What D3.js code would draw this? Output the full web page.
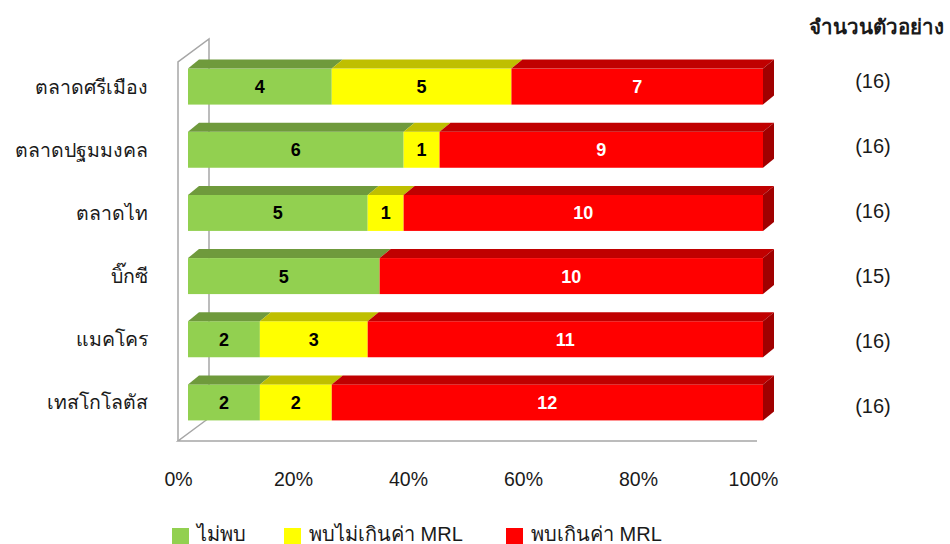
<!DOCTYPE html>
<html><head><meta charset="utf-8">
<script src="https://cdn.jsdelivr.net/npm/d3@7"></script>
<style>
html,body{margin:0;padding:0;background:#fff;}
svg{display:block;font-family:"Liberation Sans",Arial,sans-serif;}
</style></head>
<body><svg id="c" width="950" height="544"></svg>
<script>
const categories = ["ตลาดศรีเมือง","ตลาดปฐมมงคล","ตลาดไท","บิ๊กซี","แมคโคร","เทสโกโลตัส"];
const notFound = [4,6,5,5,2,2];
const withinMRL = [5,1,1,0,3,2];
const exceedMRL = [7,9,10,10,11,12];
const sampleCounts = ["(16)","(16)","(16)","(15)","(16)","(16)"];
const seriesNames = ["ไม่พบ","พบไม่เกินค่า MRL","พบเกินค่า MRL"];
const xTicks = [0,0.2,0.4,0.6,0.8,1];
const headerText = "จำนวนตัวอย่าง";

const front = ["#92D050","#FFFF00","#FF0000"];
const topC = ["#6F9A3C","#BFBF00","#C00000"];
const sideC = ["#5A7D30","#9A9A00","#A00000"];
const labelC = ["#000","#000","#fff"];

const svg = d3.select("#c");
const x = d3.scaleLinear().domain([0,1]).range([178,753]);
const y = d3.scaleBand().domain(categories).range([62,441]).paddingInner(0.43).paddingOuter(0.215);
const bdx = 10, bdy = -7;   // bar front offset from front plane
const ddx = 11, ddy = -9;   // bar depth
const wdx = 31, wdy = -23;  // wall depth

// walls
const g = svg.append("g").attr("stroke","#A6A6A6").attr("stroke-width",1.5).attr("fill","none");
const x0 = x(0), x1 = x(1), yT = y.range()[0], yB = y.range()[1];
g.append("path").attr("d",`M${x0},${yB}L${x0},${yT}L${x0+wdx},${yT+wdy}L${x0+wdx},${yB+wdy}`);
g.append("path").attr("d",`M${x0+wdx},${yB+wdy}L${x0},${yB}L${x1+4},${yB}`);

// bars
const data = categories.map((c,i)=>{
  const vals=[notFound[i],withinMRL[i],exceedMRL[i]];
  const tot=d3.sum(vals); let acc=0;
  return {c, segs: vals.map((v,k)=>{const s={k,v,a:acc/tot,b:(acc+v)/tot}; acc+=v; return s;})};
});
data.forEach(d=>{
  const yy = y(d.c)+bdy, h = y.bandwidth();
  const gb = svg.append("g");
  const segs = d.segs.filter(s=>s.v>0);
  segs.forEach((s,j)=>{
    const xa = x(s.a)+bdx, xb = x(s.b)+bdx, ya = yy;
    gb.append("rect").attr("x",xa).attr("y",ya).attr("width",xb-xa).attr("height",h).attr("fill",front[s.k]);
    gb.append("path").attr("d",`M${xa},${ya}L${xb},${ya}L${xb+ddx},${ya+ddy}L${xa+ddx},${ya+ddy}Z`).attr("fill",topC[s.k]);
    if(j===segs.length-1){
      gb.append("path").attr("d",`M${xb},${ya}L${xb+ddx},${ya+ddy}L${xb+ddx},${ya+h+ddy}L${xb},${ya+h}Z`).attr("fill",sideC[s.k]);
    }
    gb.append("text").attr("x",(xa+xb)/2).attr("y",ya+h/2).attr("dy","0.36em")
      .attr("text-anchor","middle").attr("font-size",18).attr("font-weight","bold")
      .attr("fill",labelC[s.k]).text(s.v);
  });
});

// category labels
svg.append("g").selectAll("text").data(categories).join("text")
  .attr("x",148).attr("y",d=>y(d)+bdy+y.bandwidth()/2).attr("dy","0.36em")
  .attr("text-anchor","end").attr("font-size",19.5).attr("fill","#1a1a1a").text(d=>d);

// x axis
const ax = svg.append("g").attr("transform","translate(0,479)")
  .call(d3.axisBottom(x).tickValues(xTicks).tickSize(0).tickFormat(d3.format(".0%")));
ax.select(".domain").remove();
ax.selectAll("text").attr("y",0).attr("dy","0.36em").attr("font-size",19.5).attr("fill","#1a1a1a").attr("font-family","Liberation Sans, Arial, sans-serif");

// sample counts
svg.append("text").attr("x",876).attr("y",27).attr("dy","0.36em").attr("text-anchor","middle")
  .attr("font-size",20.5).attr("font-weight","bold").attr("fill","#1a1a1a").text(headerText);
svg.append("g").selectAll("text").data(sampleCounts).join("text")
  .attr("x",873).attr("y",(d,i)=>81+i*65).attr("dy","0.36em").attr("text-anchor","middle")
  .attr("font-size",20).attr("fill","#1a1a1a").text(d=>d);

// legend
const legX = [172,284,506];
const lg = svg.append("g");
seriesNames.forEach((n,i)=>{
  lg.append("rect").attr("x",legX[i]).attr("y",528).attr("width",17).attr("height",16).attr("fill",front[i]);
  lg.append("text").attr("x",legX[i]+25).attr("y",534).attr("dy","0.36em").attr("font-size",20).attr("fill","#1a1a1a").text(n);
});
</script></body></html>
